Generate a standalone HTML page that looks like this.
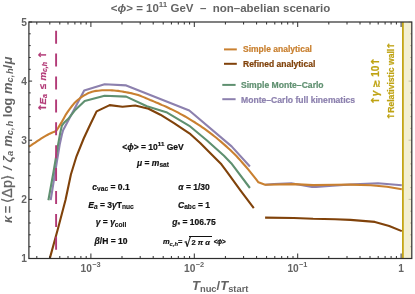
<!DOCTYPE html>
<html><head><meta charset="utf-8"><title>plot</title>
<style>
html,body{margin:0;padding:0;background:#fff;}
body{width:415px;height:294px;position:relative;overflow:hidden;font-family:"Liberation Sans","DejaVu Sans",sans-serif;font-weight:bold;}
.t{position:absolute;white-space:nowrap;line-height:1;}
.g{color:#646464;}
.k{color:#111;font-size:8.5px;-webkit-text-stroke:0.2px #111;margin-top:0.4px;}
.e{font-size:7.4px;vertical-align:baseline;position:relative;top:-5.3px;margin-left:0.3px;}
.k .s{font-size:0.78em;top:0.24em;-webkit-text-stroke:0.12px #111;}
.c{transform:translateX(-50%);}
sub,sup{line-height:0;}
.s{font-size:0.72em;position:relative;top:0.16em;vertical-align:baseline;line-height:0;}
i{font-style:italic;}
.ar{font-family:"DejaVu Sans",sans-serif;font-style:normal;font-size:1.1em;line-height:0;}
</style></head><body>
<svg width="415" height="294" viewBox="0 0 415 294" style="position:absolute;left:0;top:0"><rect width="415" height="294" fill="#fff"/><rect x="403" y="22.0" width="8.8" height="236.5" fill="#f3efd2"/><polyline points="50.7,200.2 56.8,162.0 59.7,144.6 61.9,134.5 63.1,130.3 84.2,90.5 104.6,84.2 126.2,85.4 189.3,110.5 231.6,146.4 249.9,166.5" stroke="#8c80ae" fill="none" stroke-width="2.1" stroke-linejoin="round"/><polyline points="265.1,184.7 274.0,184.0 291.3,183.2 312.0,187.0 316.0,187.0 332.6,185.6 354.5,184.2 378.0,183.2 401.8,185.2" stroke="#8c80ae" fill="none" stroke-width="2.1" stroke-linejoin="round"/><polyline points="48.4,200.2 53.5,172.0 55.2,162.0 58.1,144.6 60.2,133.0 61.9,125.5 64.0,122.8 68.8,118.2 74.7,110.6 84.7,101.0 104.6,95.8 126.2,96.6 146.9,106.2 166.3,112.2 189.3,125.8 207.0,140.5 224.0,155.8 231.2,163.2 249.9,188.0" stroke="#5f9070" fill="none" stroke-width="2.1" stroke-linejoin="round"/><polyline points="49.8,258.4 57.8,229.3 65.5,200.0 70.9,174.5 76.5,156.3 83.7,138.5 90.0,125.0 96.6,111.4 109.7,105.1 122.5,106.7 135.2,105.5 148.5,108.8 160.4,114.7 174.0,123.2 190.5,134.2 200.2,143.0 210.4,153.2 221.4,164.3 227.0,171.9 240.6,190.6 253.8,208.1" stroke="#80420a" fill="none" stroke-width="2.1" stroke-linejoin="round"/><polyline points="265.1,217.6 293.8,218.0 313.1,218.8 335.0,219.2 350.4,219.9 374.9,221.9 389.2,226.0 401.8,231.1" stroke="#80420a" fill="none" stroke-width="2.1" stroke-linejoin="round"/><polyline points="28.9,146.6 31.0,145.3 33.1,143.9 35.2,142.6 37.2,141.2 39.3,139.8 41.4,138.4 43.5,137.1 45.6,135.9 47.7,134.8 49.7,133.7 51.8,132.8 53.9,131.9 56.0,131.1 58.0,128.1 60.0,124.9 62.0,121.6 64.0,117.9 66.0,114.3 68.0,111.3 70.0,108.6 72.0,106.0 74.0,103.6 76.0,101.6 78.0,99.8 80.0,98.2 82.1,96.7 84.1,95.4 86.1,94.3 88.1,93.2 90.1,92.4 92.1,91.8 94.1,91.3 96.1,90.9 98.1,90.7 100.1,90.5 102.1,90.3 104.1,90.2 106.1,90.2 108.1,90.3 110.1,90.3 112.1,90.4 114.1,90.5 116.1,90.7 118.1,90.9 120.1,91.2 122.1,91.5 124.1,91.9 126.1,92.2 128.1,92.6 130.1,93.0 132.2,93.4 134.2,93.9 136.2,94.4 138.2,95.1 140.2,95.8 142.2,96.6 144.2,97.4 146.2,98.3 148.2,99.1 150.2,100.0 152.2,100.8 154.2,101.6 156.2,102.5 158.2,103.3 160.2,104.2 162.2,105.1 164.2,105.9 166.2,106.8 168.2,107.7 170.2,108.7 172.2,109.6 174.2,110.6 176.2,111.6 178.2,112.7 180.2,113.8 182.2,114.9 184.3,116.0 186.3,117.2 188.3,118.4 190.3,119.6 192.3,120.8 194.3,122.0 196.3,123.3 198.3,124.6 200.3,125.9 202.3,127.3 204.3,128.7 206.3,130.1 208.3,131.6 210.3,133.1 212.3,134.6 214.3,136.2 216.3,137.8 218.3,139.5 220.3,141.1 222.3,142.9 224.3,144.6 226.3,146.4 228.3,148.2 230.3,150.0 232.3,152.0 234.4,154.0 236.4,156.0 238.4,158.2 240.4,160.4 242.4,162.7 244.4,165.0 246.4,167.3 248.4,169.7 250.4,172.1 252.4,174.6 254.4,177.1 256.4,179.7 258.4,182.3 265.1,184.7 293.8,184.1 313.1,185.1 335.0,184.8 350.4,184.6 370.8,185.2 387.1,186.8 401.8,189.3" stroke="#c98030" fill="none" stroke-width="2.1" stroke-linejoin="round"/><path d="M56.1,30.7V43.7M56.1,53.6V66.6M56.1,76.5V89.5M56.1,99.4V112.4M56.1,122.3V135.3M56.1,145.2V158.2M56.1,168.1V181.1M56.1,191.0V204.0M56.1,213.9V226.9M56.1,236.8V249.8" stroke="#b23a77" stroke-width="1.9" fill="none"/><line x1="402.9" y1="22.0" x2="402.9" y2="258.5" stroke="#c4a617" stroke-width="1.8"/><path d="M36.8,258.5v-2.5M36.8,22.0v2.5M49.8,258.5v-2.5M49.8,22.0v2.5M59.8,258.5v-2.5M59.8,22.0v2.5M68.0,258.5v-2.5M68.0,22.0v2.5M74.9,258.5v-2.5M74.9,22.0v2.5M80.9,258.5v-2.5M80.9,22.0v2.5M86.2,258.5v-2.5M86.2,22.0v2.5M90.9,258.5v-5.0M90.9,22.0v5.0M122.0,258.5v-2.5M122.0,22.0v2.5M140.2,258.5v-2.5M140.2,22.0v2.5M153.2,258.5v-2.5M153.2,22.0v2.5M163.2,258.5v-2.5M163.2,22.0v2.5M171.4,258.5v-2.5M171.4,22.0v2.5M178.3,258.5v-2.5M178.3,22.0v2.5M184.3,258.5v-2.5M184.3,22.0v2.5M189.6,258.5v-2.5M189.6,22.0v2.5M194.3,258.5v-5.0M194.3,22.0v5.0M225.4,258.5v-2.5M225.4,22.0v2.5M243.6,258.5v-2.5M243.6,22.0v2.5M256.6,258.5v-2.5M256.6,22.0v2.5M266.6,258.5v-2.5M266.6,22.0v2.5M274.8,258.5v-2.5M274.8,22.0v2.5M281.7,258.5v-2.5M281.7,22.0v2.5M287.7,258.5v-2.5M287.7,22.0v2.5M293.0,258.5v-2.5M293.0,22.0v2.5M297.7,258.5v-5.0M297.7,22.0v5.0M328.8,258.5v-2.5M328.8,22.0v2.5M347.0,258.5v-2.5M347.0,22.0v2.5M360.0,258.5v-2.5M360.0,22.0v2.5M370.0,258.5v-2.5M370.0,22.0v2.5M378.2,258.5v-2.5M378.2,22.0v2.5M385.1,258.5v-2.5M385.1,22.0v2.5M391.1,258.5v-2.5M391.1,22.0v2.5M396.4,258.5v-2.5M396.4,22.0v2.5M401.1,258.5v-5.0M401.1,22.0v5.0M28.9,258.5h3.2M28.9,246.7h1.8M28.9,234.8h1.8M28.9,223.0h1.8M28.9,211.2h1.8M28.9,199.4h3.2M28.9,187.6h1.8M28.9,175.7h1.8M28.9,163.9h1.8M28.9,152.1h1.8M28.9,140.2h3.2M28.9,128.4h1.8M28.9,116.6h1.8M28.9,104.8h1.8M28.9,92.9h1.8M28.9,81.1h3.2M28.9,69.3h1.8M28.9,57.5h1.8M28.9,45.6h1.8M28.9,33.8h1.8M28.9,22.0h3.2" stroke="#2e2e2e" stroke-width="1" fill="none"/><path d="M411.8,258.5h-3.2M411.8,246.7h-1.8M411.8,234.8h-1.8M411.8,223.0h-1.8M411.8,211.2h-1.8M411.8,199.4h-3.2M411.8,187.6h-1.8M411.8,175.7h-1.8M411.8,163.9h-1.8M411.8,152.1h-1.8M411.8,140.2h-3.2M411.8,128.4h-1.8M411.8,116.6h-1.8M411.8,104.8h-1.8M411.8,92.9h-1.8M411.8,81.1h-3.2M411.8,69.3h-1.8M411.8,57.5h-1.8M411.8,45.6h-1.8M411.8,33.8h-1.8M411.8,22.0h-3.2" stroke="#b9b59c" stroke-width="0.8" fill="none"/><rect x="28.9" y="22.0" width="382.9" height="236.5" fill="none" stroke="#2e2e2e" stroke-width="1.2"/><line x1="224" y1="49.4" x2="236.8" y2="49.4" stroke="#c98030" stroke-width="2"/><line x1="224" y1="63.8" x2="236.8" y2="63.8" stroke="#80420a" stroke-width="2"/><line x1="222.3" y1="84.9" x2="235.6" y2="84.9" stroke="#5f9070" stroke-width="2"/><line x1="222.3" y1="99.2" x2="235.6" y2="99.2" stroke="#8c80ae" stroke-width="2"/></svg>
<div class="t g" id="title" style="left:110.8px;top:3px;font-size:11.5px;color:#646464;">&lt;<i>ϕ</i>&gt; = 10<sup style="font-size:8px;vertical-align:baseline;position:relative;top:-5px;">11</sup> GeV &nbsp;–&nbsp; non–abelian scenario</div>
<div class="t g" style="left:21.2px;top:17.9px;font-size:10.2px;">5</div>
<div class="t g" style="left:21.2px;top:77.0px;font-size:10.2px;">4</div>
<div class="t g" style="left:21.2px;top:136.1px;font-size:10.2px;">3</div>
<div class="t g" style="left:21.2px;top:195.2px;font-size:10.2px;">2</div>
<div class="t g" style="left:21.2px;top:254.4px;font-size:10.2px;">1</div>
<div class="t g" style="left:80.6px;top:264.3px;font-size:10.2px;">10<sup class="e">−3</sup></div>
<div class="t g" style="left:184px;top:264.3px;font-size:10.2px;">10<sup class="e">−2</sup></div>
<div class="t g" style="left:287.4px;top:264.3px;font-size:10.2px;">10<sup class="e">−1</sup></div>
<div class="t g" style="left:398.3px;top:264.3px;font-size:10.2px;">1</div>
<div class="t g" id="xl" style="left:192px;top:279.2px;font-size:13px;"><i>T</i><span class="s">nuc</span>/<i>T</i><span class="s">start</span></div>
<div class="t g" id="yl" style="left:0.7px;top:223.4px;font-size:13px;transform-origin:0 0;transform:rotate(-90deg);"><i>κ</i><span style="word-spacing:-1.2px"> = </span><span style="font-weight:normal;font-size:14.3px;line-height:0;-webkit-text-stroke:0.25px #646464">⟨Δp⟩</span><i style="word-spacing:0.6px"> / ζ<span class="s">a</span> m<span class="s">c,<span style="margin-left:0.8px">h</span></span></i> log <i>m<span class="s">c,<span style="margin-left:0.8px">h</span></span></i>/<i>μ</i></div>
<div class="t" style="left:243px;top:45.4px;font-size:8.5px;color:#c98030;-webkit-text-stroke:0.2px #c98030;">Simple analytical</div>
<div class="t" style="left:243px;top:59.6px;font-size:8.5px;color:#80420a;-webkit-text-stroke:0.2px #80420a;">Refined analytical</div>
<div class="t" style="left:241px;top:80.5px;font-size:8.6px;color:#5f9070;-webkit-text-stroke:0.2px #5f9070;">Simple Monte–Carlo</div>
<div class="t" style="left:241px;top:95.7px;font-size:8.6px;color:#8c80ae;-webkit-text-stroke:0.2px #8c80ae;">Monte–Carlo full kinematics</div>

<div class="t k c" id="a1" style="left:153px;top:142.5px;">&lt;<i>ϕ</i>&gt; = 10<sup style="font-size:6.2px;vertical-align:baseline;position:relative;top:-3.6px;">11</sup> GeV</div>
<div class="t k c" id="a2" style="left:153px;top:158.5px;"><i>μ</i> = <i>m</i><span class="s">sat</span></div>
<div class="t k c" id="b1" style="left:111px;top:182.5px;"><i>c</i><span class="s">vac</span> = 0.1</div>
<div class="t k c" id="b2" style="left:111px;top:200.5px;"><i>E<span class="s">a</span></i> = 3<i>γ</i>T<span class="s">nuc</span></div>
<div class="t k c" id="b3" style="left:111px;top:218px;"><i>γ</i> = <i>γ</i><span class="s">coll</span></div>
<div class="t k c" id="b4" style="left:111px;top:237px;"><i>β</i>/H = 10</div>
<div class="t k c" id="c1" style="left:194px;top:182.5px;"><i>α</i> = 1/30</div>
<div class="t k c" id="c2" style="left:194px;top:200.5px;"><i>C</i><span class="s">abc</span> = 1</div>
<div class="t k c" id="c3" style="left:194px;top:218px;"><i>g</i><span class="s">*</span> = 106.75</div>
<div class="t k" id="c4" style="left:162.9px;top:238px;font-size:7.5px;"><i>m<span class="s">c,h</span></i>=<span style="font-family:'DejaVu Sans',sans-serif;font-size:11.5px;line-height:0;position:relative;top:2.3px;margin-left:0.2px;margin-right:-0.9px;display:inline-block;transform:scaleX(0.85);transform-origin:100% 50%;">√</span><span style="border-top:0.9px solid #111;padding:0.9px 1.6px 0 2.2px;">2 <i>π α</i></span><span style="font-size:6.5px;margin-left:2.2px;letter-spacing:-0.2px">&lt;<i>ϕ</i>&gt;</span></div>
<div class="t" id="m1" style="left:38px;top:111.5px;font-size:9.6px;color:#b23a77;-webkit-text-stroke:0.2px #b23a77;transform-origin:0 0;transform:rotate(-90deg);"><span class="ar" style="margin-right:-1.3px">↑</span><i>E<span class="s">a</span></i><span style="margin-left:2.2px"> </span>≤<span style="margin-left:0.9px"> </span><i>m<span class="s">c,h</span></i><span class="ar" style="margin-left:2.7px">↑</span></div>
<div class="t" id="y1" style="left:370.6px;top:104.5px;font-size:10px;color:#bfa313;transform-origin:0 0;transform:rotate(-90deg);-webkit-text-stroke:0.2px #bfa313;"><span class="ar" style="margin-right:-0.5px">↑</span><i>γ</i> ≳ 10<span class="ar" style="margin-left:-0.5px">↑</span></div>
<div class="t" id="y2" style="left:386.5px;top:120px;font-size:8.6px;color:#bfa313;transform-origin:0 0;transform:rotate(-90deg);-webkit-text-stroke:0.2px #bfa313;"><span class="ar" style="margin-right:-0.7px">↑</span>Relativistic wall<span class="ar" style="margin-left:-0.7px">↑</span></div>
</body></html>
